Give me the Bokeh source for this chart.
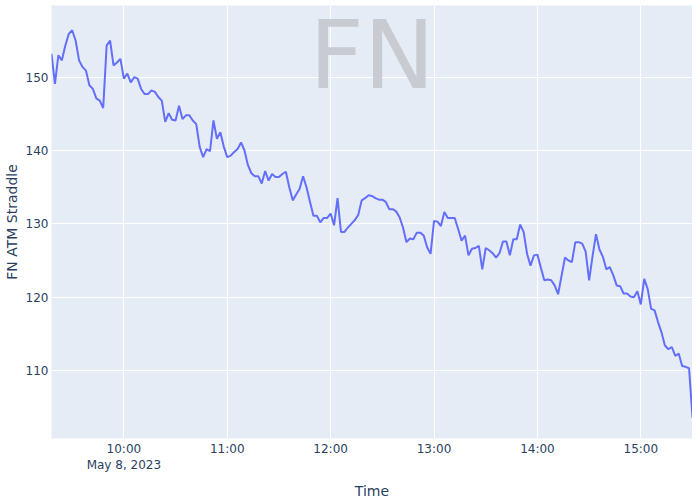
import pandas as pd
from bokeh.plotting import figure
from bokeh.models import ColumnDataSource, FixedTicker, CustomJSTickFormatter, Range1d, Label
from bokeh.embed import file_html
from bokeh.resources import INLINE

# FN ATM straddle, 2-minute samples from 09:18 to 15:30 on May 8, 2023
start_time = "2023-05-08 09:18"
step_minutes = 2
straddle = [
    153.2, 149.1, 153.0, 152.3, 154.3, 155.9, 156.4, 155.0, 152.3, 151.4,
    150.9, 148.9, 148.4, 147.1, 146.8, 145.8, 154.3, 155.0, 151.6, 152.0,
    152.5, 149.8, 150.5, 149.3, 150.0, 149.8, 148.4, 147.7, 147.7, 148.2,
    148.0, 147.3, 146.8, 143.9, 145.1, 144.2, 144.1, 146.1, 144.3, 144.8,
    144.8, 144.1, 143.6, 140.5, 139.1, 140.2, 139.9, 144.1, 141.6, 142.5,
    140.5, 139.1, 139.3, 139.8, 140.2, 141.1, 140.0, 138.0, 136.9, 136.5,
    136.5, 135.5, 137.2, 135.9, 136.8, 136.4, 136.4, 136.8, 137.1, 135.0,
    133.2, 134.0, 134.8, 136.5, 135.0, 133.0, 131.1, 131.1, 130.2, 130.8,
    130.8, 131.4, 129.8, 133.5, 128.9, 128.9, 129.5, 130.0, 130.5, 131.2,
    133.2, 133.5, 133.9, 133.8, 133.5, 133.3, 133.3, 133.0, 132.0, 132.0,
    131.7, 130.9, 129.5, 127.5, 128.0, 127.9, 128.8, 128.8, 128.4, 126.8,
    125.9, 130.4, 130.3, 129.7, 131.6, 130.8, 130.8, 130.8, 129.3, 127.7,
    128.4, 125.7, 126.6, 126.7, 127.0, 123.8, 126.7, 126.4, 126.0, 125.4,
    126.0, 127.6, 127.6, 125.7, 127.9, 127.9, 129.9, 128.9, 125.9, 124.3,
    125.7, 125.8, 124.0, 122.3, 122.4, 122.3, 121.6, 120.4, 122.9, 125.4,
    125.0, 124.8, 127.5, 127.5, 127.3, 126.2, 122.3, 125.6, 128.6, 126.5,
    125.5, 123.8, 124.1, 123.0, 121.6, 121.5, 120.5, 120.5, 120.1, 120.0,
    120.8, 119.0, 122.5, 121.1, 118.4, 118.2, 116.6, 115.2, 113.4, 112.9,
    113.2, 112.0, 112.3, 110.6, 110.5, 110.3, 103.6,
]
x_tick_times = ["2023-05-08 10:00", "2023-05-08 11:00", "2023-05-08 12:00",
                "2023-05-08 13:00", "2023-05-08 14:00", "2023-05-08 15:00"]
y_ticks = [110, 120, 130, 140, 150]
y_min, y_max = 100.72, 159.78
date_label = "May 8, 2023"
x_title = "Time"
y_title = "FN ATM Straddle"
watermark = "FN"

t0 = pd.Timestamp(start_time)
times = [t0 + pd.Timedelta(minutes=step_minutes * i) for i in range(len(straddle))]
source = ColumnDataSource(data=dict(time=times, value=straddle))

def ms(ts):
    return pd.Timestamp(ts).value / 1e6

FONT = "DejaVu Sans"
TXT = "#2a3f5f"

p = figure(
    x_axis_type="datetime",
    frame_width=641, frame_height=433,
    min_border_left=46, min_border_right=0, min_border_top=5, min_border_bottom=48,
    output_backend="svg", toolbar_location=None,
    background_fill_color="#E5ECF6", border_fill_color="white",
    outline_line_color=None,
    x_range=Range1d(times[0], times[-1]),
    y_range=Range1d(y_min, y_max),
)

p.line(x="time", y="value", source=source, line_color="#636efa", line_width=2)

p.xaxis.ticker = FixedTicker(ticks=[ms(t) for t in x_tick_times])
p.xaxis.formatter = CustomJSTickFormatter(args=dict(dl=date_label), code="""
const d = new Date(tick);
const h = d.getUTCHours();
const m = d.getUTCMinutes();
let s = h + ':' + String(m).padStart(2, '0');
if (index == 0) { s = s + '\\n' + dl; }
return s;
""")
p.yaxis.ticker = FixedTicker(ticks=y_ticks)

for ax in (p.xaxis[0], p.yaxis[0]):
    ax.axis_line_color = None
    ax.major_tick_line_color = None
    ax.minor_tick_line_color = None
    ax.major_tick_out = 0
    ax.major_tick_in = 0
    ax.major_label_text_color = TXT
    ax.major_label_text_font = FONT
    ax.major_label_text_font_size = "12px"
    ax.axis_label_text_color = TXT
    ax.axis_label_text_font = FONT
    ax.axis_label_text_font_size = "14px"
    ax.axis_label_text_font_style = "normal"

p.xaxis.major_label_standoff = 3
p.yaxis.major_label_standoff = 3
p.xaxis.axis_label = x_title
p.yaxis.axis_label = y_title
p.xaxis.axis_label_standoff = 8
p.yaxis.axis_label_standoff = 3

p.xgrid.grid_line_color = "white"
p.ygrid.grid_line_color = "white"
p.xgrid.grid_line_width = 1
p.ygrid.grid_line_width = 1

mid_ms = (ms(times[0]) + ms(times[-1])) / 2
p.add_layout(Label(x=mid_ms, y=153.0, text=watermark, text_font=FONT,
                   text_font_size="95px", text_color="#c8cbd1", text_alpha=1.0,
                   text_align="center", text_baseline="alphabetic"))

open("out.html", "w").write(file_html(p, INLINE))
